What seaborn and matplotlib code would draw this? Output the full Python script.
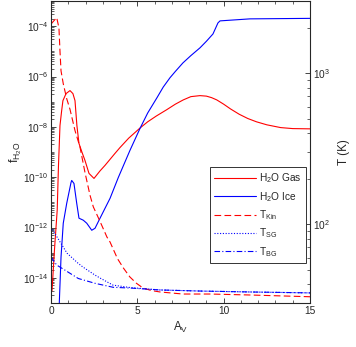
import numpy as np
import pandas as pd
import seaborn as sns
import matplotlib

matplotlib.use('Agg')
import matplotlib.pyplot as plt
from matplotlib.ticker import FixedLocator, LogLocator, NullFormatter, LogFormatterMathtext

# H2O gas abundance, log10(f)
av_gas = [0, 0.06, 0.2, 0.36, 0.43, 0.52, 0.61, 0.69, 0.87, 1.1, 1.27, 1.39, 1.5, 1.62,
          1.8, 1.97, 2.2, 2.49, 2.84, 3.13, 3.7, 4.0, 4.5, 5.15, 5.6, 6.1, 6.7, 7.2,
          7.66, 8.1, 8.63, 9.0, 9.3, 9.6, 10.0, 10.4, 10.9, 11.4, 11.9, 12.5, 13.3,
          14.0, 15]
log_gas = [-14.6, -14.5, -12.9, -11.3, -9.6, -7.95, -7.4, -6.96, -6.68, -6.56, -6.68,
           -6.96, -7.95, -8.66, -9.02, -9.34, -9.85, -10.05, -9.75, -9.53, -9.06, -8.82,
           -8.45, -8.05, -7.8, -7.57, -7.32, -7.1, -6.93, -6.8, -6.76, -6.78, -6.84,
           -6.93, -7.1, -7.29, -7.5, -7.67, -7.8, -7.92, -8.03, -8.07, -8.08]

# H2O ice abundance, log10(f)
av_ice = [0.47, 0.48, 0.58, 0.71, 0.91, 1.16, 1.2, 1.33, 1.49, 1.62, 1.87, 2.07, 2.36,
          2.55, 2.84, 3.42, 3.9, 4.57, 5.15, 5.6, 6.14, 6.5, 6.89, 7.2, 7.64, 8.1, 8.63,
          9.0, 9.38, 9.67, 9.79, 11.52, 15]
log_ice = [-15.5, -15.0, -13.18, -11.83, -11.04, -10.21, -10.13, -10.25, -11.04, -11.63,
           -11.71, -11.83, -12.11, -12.03, -11.63, -10.84, -10.01, -8.94, -8.07, -7.45,
           -6.84, -6.42, -6.05, -5.8, -5.46, -5.17, -4.86, -4.6, -4.31, -3.87, -3.79,
           -3.71, -3.69]

# temperatures (K)
av_kin = [0, 0.33, 0.46, 0.52, 0.58, 0.71, 0.91, 1.1, 1.39, 1.68, 1.97, 2.26, 2.45,
          2.84, 3.24, 3.42, 3.85, 4.2, 4.57, 4.95, 5.33, 5.8, 6.31, 7.64, 9.2, 11.5, 15]
t_kin = [2110, 2330, 1990, 1400, 1035, 850, 676, 575, 416, 323, 219, 155, 130, 104, 82,
         76, 59, 51, 44.6, 40.5, 37.7, 36.3, 35.5, 34.4, 34.4, 33.9, 33.0]

av_sg = [0, 0.46, 0.93, 1.56, 1.85, 2.55, 2.84, 3.59, 4.57, 6.31, 8.63, 11.5, 15]
t_sg = [95.5, 78.2, 64.1, 55.1, 51.9, 45.9, 43.9, 39.4, 38.0, 36.6, 36.0, 35.5, 35.0]

av_bg = [0, 0.33, 0.81, 1.58, 2.55, 3.61, 4.57, 6.31, 8.63, 11.5, 15]
t_bg = [60.5, 53.5, 49.5, 43.6, 40.5, 38.1, 37.7, 36.6, 36.0, 35.5, 35.0]

df_gas = pd.DataFrame({'A_V': av_gas, 'f': np.power(10.0, log_gas)})
df_ice = pd.DataFrame({'A_V': av_ice, 'f': np.power(10.0, log_ice)})
df_kin = pd.DataFrame({'A_V': av_kin, 'T': t_kin})
df_sg = pd.DataFrame({'A_V': av_sg, 'T': t_sg})
df_bg = pd.DataFrame({'A_V': av_bg, 'T': t_bg})

sns.set_style('ticks')
plt.rcParams['font.family'] = ['Liberation Sans', 'DejaVu Sans']
plt.rcParams['mathtext.fontset'] = 'custom'
plt.rcParams['mathtext.rm'] = 'Liberation Sans'
plt.rcParams['mathtext.it'] = 'Liberation Sans:italic'
plt.rcParams['mathtext.bf'] = 'Liberation Sans:bold'
plt.rcParams['mathtext.default'] = 'regular'
plt.rcParams['xtick.direction'] = 'in'
plt.rcParams['ytick.direction'] = 'in'

fig = plt.figure(figsize=(3.56, 3.47), dpi=100)
ax = fig.add_axes([51 / 356, 1 - 303 / 347, 259 / 356, 302 / 347])
ax2 = ax.twinx()

lw = 0.8
sns.lineplot(data=df_gas, x='A_V', y='f', ax=ax, color='red', lw=lw,
             label='H$_2$O Gas', legend=False)
sns.lineplot(data=df_ice, x='A_V', y='f', ax=ax, color='blue', lw=lw,
             label='H$_2$O Ice', legend=False)
sns.lineplot(data=df_kin, x='A_V', y='T', ax=ax2, color='red', lw=lw,
             linestyle=(0, (6, 3)), label='T$_{Kin}$', legend=False)
sns.lineplot(data=df_sg, x='A_V', y='T', ax=ax2, color='blue', lw=lw,
             linestyle=(0, (1, 1.5)), label='T$_{SG}$', legend=False)
sns.lineplot(data=df_bg, x='A_V', y='T', ax=ax2, color='blue', lw=lw,
             linestyle=(0, (5, 2, 1, 2)), label='T$_{BG}$', legend=False)

ax.set_xlim(0, 15)
ax.set_yscale('log')
ax.set_ylim(1e-15, 1e-3)
ax.set_xticks([0, 5, 10, 15])
ax.set_xticks(np.arange(0, 16, 1), minor=True)
ax.yaxis.set_major_locator(FixedLocator([10.0 ** k for k in range(-14, -3, 2)]))
ax.yaxis.set_major_formatter(LogFormatterMathtext())
ax.yaxis.set_minor_locator(LogLocator(base=10, subs=np.arange(1, 10), numticks=100))
ax.yaxis.set_minor_formatter(NullFormatter())

ax2.set_yscale('log')
ax2.set_ylim(30, 3000)
ax2.yaxis.set_minor_formatter(NullFormatter())

for a in (ax, ax2):
    a.tick_params(which='major', length=3.5, width=0.6, labelsize=7.3, pad=2)
    a.tick_params(which='minor', length=2, width=0.5)
ax.tick_params(axis='x', which='both', top=True)
for sp in ax.spines.values():
    sp.set_linewidth(0.7)

ax.set_xlabel('A$_V$', fontsize=8.4, labelpad=3)
ax.set_ylabel('f$_{H_2O}$', fontsize=8.8, labelpad=-1)
ax2.set_ylabel('T (K)', fontsize=8.4, labelpad=6)

h1, l1 = ax.get_legend_handles_labels()
h2, l2 = ax2.get_legend_handles_labels()
leg = ax2.legend(h1 + h2, l1 + l2, loc='upper right', bbox_to_anchor=(0.985, 0.449),
                 frameon=True, fancybox=False, framealpha=1, edgecolor='0.2',
                 fontsize=7.3, handlelength=4.2, handletextpad=0.3, labelspacing=0.45,
                 borderaxespad=0, borderpad=0.4)
leg.get_frame().set_linewidth(0.7)

fig.savefig('out.png', dpi=100)
